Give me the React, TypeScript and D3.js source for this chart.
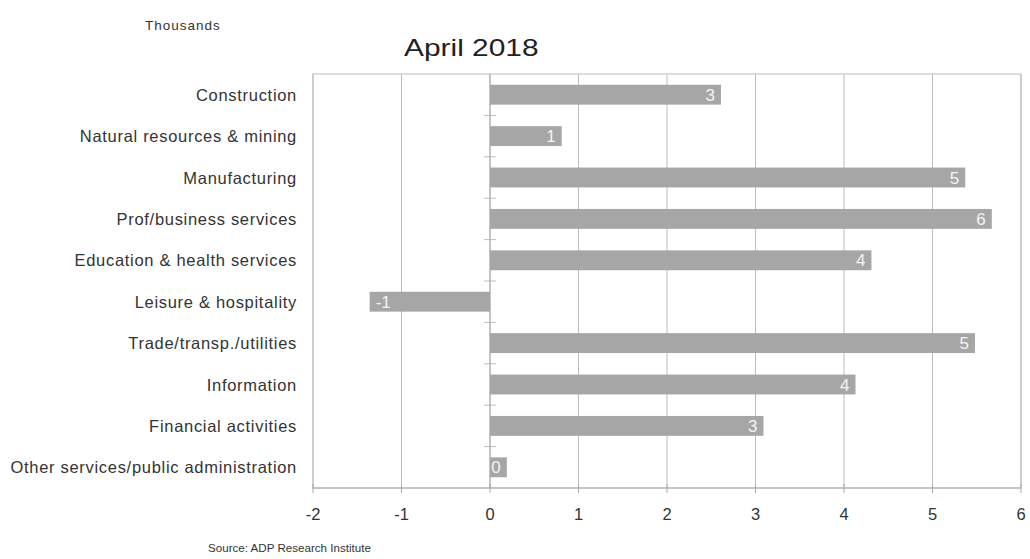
import React from "react";
import * as d3 from "d3";

const categories = [
  "Construction",
  "Natural resources & mining",
  "Manufacturing",
  "Prof/business services",
  "Education & health services",
  "Leisure & hospitality",
  "Trade/transp./utilities",
  "Information",
  "Financial activities",
  "Other services/public administration",
];
const values = [2.61, 0.81, 5.37, 5.67, 4.31, -1.36, 5.48, 4.13, 3.09, 0.19];
const xTicks = [-2, -1, 0, 1, 2, 3, 4, 5, 6];

const W = 1030;
const H = 559;
const M = { left: 313, right: 1021, top: 74, bottom: 488 };
const FONT = "'Liberation Sans', Arial, sans-serif";

const fmtNum = (v: number) => String(Math.round(v));

export default function App() {
  const x = d3.scaleLinear().domain([-2, 6]).range([M.left, M.right]);
  const y = d3
    .scaleBand<string>()
    .domain(categories)
    .range([M.top, M.bottom])
    .paddingInner(0.52)
    .paddingOuter(0.26);
  const band = (M.bottom - M.top) / categories.length;
  const grid = "#bdbdbd";

  return (
    <svg
      width={W}
      height={H}
      style={{ position: "absolute", left: 0, top: 0, background: "#fff" }}
      fontFamily={FONT}
    >
      <text x={145} y={30} fontSize={13.5} letterSpacing={1} fill="#333">
        Thousands
      </text>
      <text
        transform="translate(404,56) scale(1.3,1)"
        fontSize={23}
        fill="#222"
      >
        April 2018
      </text>

      {/* plot border */}
      <rect
        x={M.left}
        y={M.top}
        width={M.right - M.left}
        height={M.bottom - M.top}
        fill="none"
        stroke={grid}
        strokeWidth={1}
      />
      {/* vertical gridlines */}
      {xTicks.map((t) => (
        <line
          key={"g" + t}
          x1={x(t)}
          x2={x(t)}
          y1={M.top}
          y2={M.bottom}
          stroke={grid}
          strokeWidth={1}
        />
      ))}
      {/* bars */}
      {categories.map((c, i) => {
        const v = values[i];
        const x0 = x(Math.min(0, v));
        const x1 = x(Math.max(0, v));
        const yy = y(c)!;
        const h = y.bandwidth();
        return (
          <g key={c}>
            <rect x={x0} y={yy} width={x1 - x0} height={h} fill="#a6a6a6" />
            <text
              x={v >= 0 ? x1 - 6 : x0 + 6}
              y={yy + h / 2 + 6}
              fontSize={17}
              fill="#f4f4f4"
              textAnchor={v >= 0 ? "end" : "start"}
            >
              {fmtNum(v)}
            </text>
            <text
              x={297}
              y={yy + h / 2 + 6}
              fontSize={16.5}
              letterSpacing={0.7}
              fill="#333"
              textAnchor="end"
            >
              {c}
            </text>
          </g>
        );
      })}
      {/* category ticks on zero axis */}
      {d3.range(1, categories.length).map((k) => (
        <line
          key={"ct" + k}
          x1={x(0) - 6}
          x2={x(0) + 6}
          y1={M.top + band * k}
          y2={M.top + band * k}
          stroke={grid}
        />
      ))}
      <line x1={x(0)} x2={x(0)} y1={M.top} y2={M.bottom} stroke="#aaa" />
      {/* x axis */}
      <line x1={M.left} x2={M.right} y1={M.bottom} y2={M.bottom} stroke="#aaa" />
      {xTicks.map((t) => (
        <g key={"t" + t}>
          <line x1={x(t)} x2={x(t)} y1={M.bottom - 4} y2={M.bottom + 5} stroke="#aaa" />
          <text x={x(t)} y={520} fontSize={16.5} fill="#333" textAnchor="middle">
            {fmtNum(t)}
          </text>
        </g>
      ))}
      <text x={208} y={552} fontSize={11.6} fill="#333">
        Source: ADP Research Institute
      </text>
    </svg>
  );
}
